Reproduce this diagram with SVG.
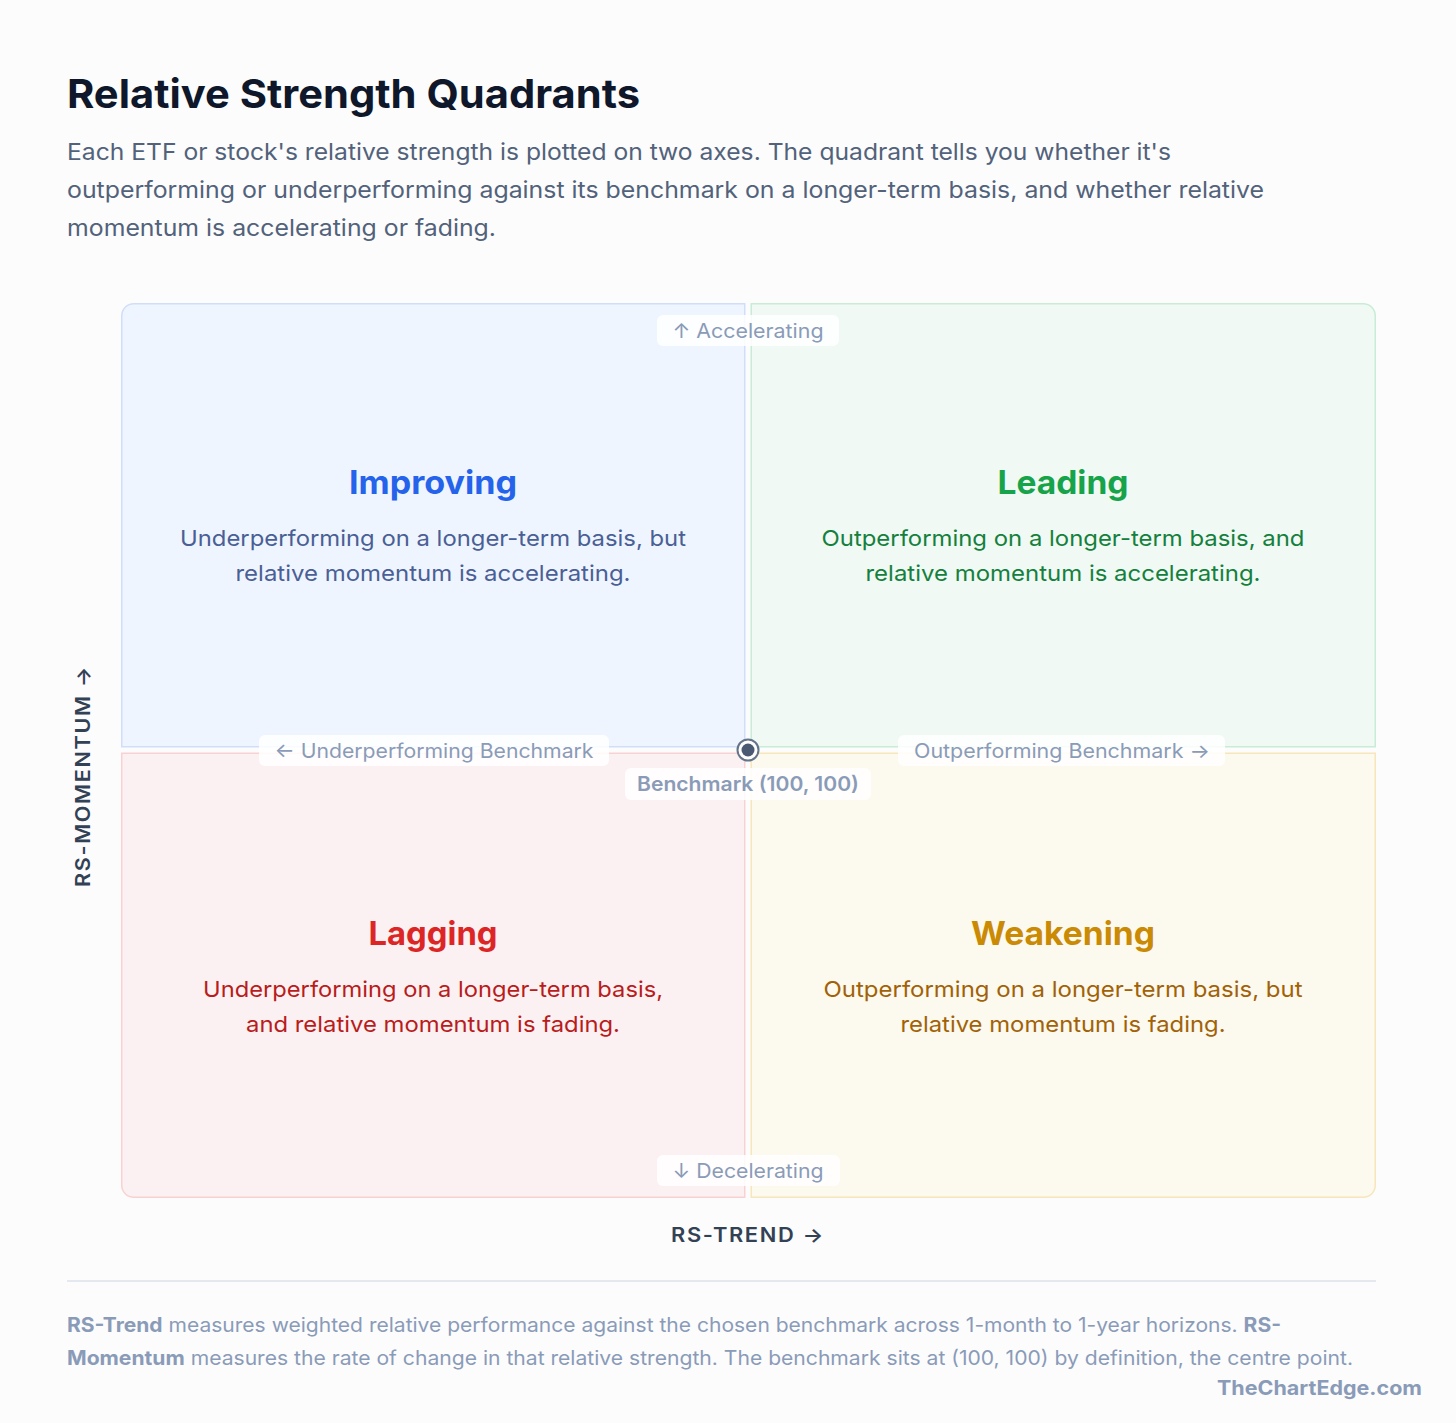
<svg xmlns="http://www.w3.org/2000/svg" width="1456" height="1423" viewBox="0 0 1456 1423">
<style>
text{font-family:Inter,"Open Sans","DejaVu Sans",sans-serif}
.title{font-size:40px;font-weight:700;fill:#0f172a}
.sub{font-size:23px;fill:#52627a}
.qt{font-size:33px;font-weight:700;text-anchor:middle}
.qd{font-size:22px;text-anchor:middle}
.pill{fill:#ffffff;fill-opacity:0.85}
.lbl{font-size:20px;fill:#8a9bb8;text-anchor:middle}
.axis{font-size:20px;font-weight:600;fill:#334155;letter-spacing:1.5px;text-anchor:middle}
.foot{font-size:20px;fill:#8a9bb8}
.b{font-weight:700}
</style>
<rect width="1456" height="1423" fill="#fcfcfd"/>
<g id="header">
<text class="title" x="67" y="108" textLength="573" lengthAdjust="spacingAndGlyphs">Relative Strength Quadrants</text>
<text class="sub" x="67" y="160" textLength="1104" lengthAdjust="spacingAndGlyphs">Each ETF or stock's relative strength is plotted on two axes. The quadrant tells you whether it's</text>
<text class="sub" x="67" y="198" textLength="1197" lengthAdjust="spacingAndGlyphs">outperforming or underperforming against its benchmark on a longer-term basis, and whether relative</text>
<text class="sub" x="67" y="236" textLength="429" lengthAdjust="spacingAndGlyphs">momentum is accelerating or fading.</text>
</g>
<g id="improving">
<path d="M121.75,746.75 V315.75 A12,12 0 0 1 133.75,303.75 H744.75 V746.75 Z" fill="#eff5fe" stroke="#d0defa" stroke-width="1.5"/>
<text class="qt" x="433" y="494" fill="#2563eb" textLength="168" lengthAdjust="spacingAndGlyphs">Improving</text>
<text class="qd" x="433" y="546" fill="#4a5f95" textLength="506" lengthAdjust="spacingAndGlyphs">Underperforming on a longer-term basis, but</text>
<text class="qd" x="433" y="581" fill="#4a5f95" textLength="395" lengthAdjust="spacingAndGlyphs">relative momentum is accelerating.</text>
</g>
<g id="leading">
<path d="M751.25,303.75 H1363.25 A12,12 0 0 1 1375.25,315.75 V746.75 H751.25 Z" fill="#f0f9f4" stroke="#c8ecd6" stroke-width="1.5"/>
<text class="qt" x="1063" y="494" fill="#16a34a" textLength="131" lengthAdjust="spacingAndGlyphs">Leading</text>
<text class="qd" x="1063" y="546" fill="#15803d" textLength="483" lengthAdjust="spacingAndGlyphs">Outperforming on a longer-term basis, and</text>
<text class="qd" x="1063" y="581" fill="#15803d" textLength="395" lengthAdjust="spacingAndGlyphs">relative momentum is accelerating.</text>
</g>
<g id="lagging">
<path d="M121.75,753.25 H744.75 V1197.25 H133.75 A12,12 0 0 1 121.75,1185.25 Z" fill="#fcf1f2" stroke="#f8d2d2" stroke-width="1.5"/>
<text class="qt" x="433" y="945" fill="#dc2626" textLength="129" lengthAdjust="spacingAndGlyphs">Lagging</text>
<text class="qd" x="433" y="997" fill="#b91c1c" textLength="460" lengthAdjust="spacingAndGlyphs">Underperforming on a longer-term basis,</text>
<text class="qd" x="433" y="1032" fill="#b91c1c" textLength="374" lengthAdjust="spacingAndGlyphs">and relative momentum is fading.</text>
</g>
<g id="weakening">
<path d="M751.25,753.25 H1375.25 V1185.25 A12,12 0 0 1 1363.25,1197.25 H751.25 Z" fill="#fcf9ef" stroke="#f6e6ba" stroke-width="1.5"/>
<text class="qt" x="1063" y="945" fill="#ca8a04" textLength="184" lengthAdjust="spacingAndGlyphs">Weakening</text>
<text class="qd" x="1063" y="997" fill="#a16207" textLength="479" lengthAdjust="spacingAndGlyphs">Outperforming on a longer-term basis, but</text>
<text class="qd" x="1063" y="1032" fill="#a16207" textLength="325" lengthAdjust="spacingAndGlyphs">relative momentum is fading.</text>
</g>
<g id="label-accelerating">
<rect class="pill" x="657" y="315" width="182" height="31" rx="6"/>
<text class="lbl" x="748" y="338" textLength="151" lengthAdjust="spacingAndGlyphs">↑ Accelerating</text>
</g>
<g id="label-decelerating">
<rect class="pill" x="657" y="1155" width="183" height="31" rx="6"/>
<text class="lbl" x="748" y="1178" textLength="151" lengthAdjust="spacingAndGlyphs">↓ Decelerating</text>
</g>
<g id="label-under">
<rect class="pill" x="259" y="735" width="350" height="31" rx="6"/>
<text class="lbl" x="434" y="758" textLength="319" lengthAdjust="spacingAndGlyphs">← Underperforming Benchmark</text>
</g>
<g id="label-out">
<rect class="pill" x="898" y="735" width="327" height="31" rx="6"/>
<text class="lbl" x="1062" y="758" textLength="296" lengthAdjust="spacingAndGlyphs">Outperforming Benchmark →</text>
</g>
<g id="benchmark">
<circle cx="748" cy="750" r="10.5" fill="#ffffff" stroke="#64748b" stroke-width="2"/>
<circle cx="748" cy="750" r="6.5" fill="#4b5a73"/>
<rect class="pill" x="625" y="768" width="246" height="32" rx="6"/>
<text class="lbl" x="748" y="791" font-weight="600" textLength="222" lengthAdjust="spacingAndGlyphs">Benchmark (100, 100)</text>
</g>
<g id="axes">
<text class="axis" x="748" y="1242" textLength="154" lengthAdjust="spacingAndGlyphs">RS-TREND →</text>
<text class="axis" transform="translate(90,776) rotate(-90)" x="0" y="0" textLength="222" lengthAdjust="spacingAndGlyphs">RS-MOMENTUM →</text>
</g>
<g id="footer">
<line x1="67" y1="1281" x2="1376" y2="1281" stroke="#dde3ec" stroke-width="1.5"/>
<text class="foot" x="67" y="1332" textLength="1214" lengthAdjust="spacingAndGlyphs"><tspan class="b">RS-Trend</tspan> measures weighted relative performance against the chosen benchmark across 1-month to 1-year horizons. <tspan class="b">RS-</tspan></text>
<text class="foot" x="67" y="1365" textLength="1286" lengthAdjust="spacingAndGlyphs"><tspan class="b">Momentum</tspan> measures the rate of change in that relative strength. The benchmark sits at (100, 100) by definition, the centre point.</text>
<text class="foot b" x="1422" y="1395" font-size="22" text-anchor="end" textLength="205" lengthAdjust="spacingAndGlyphs">TheChartEdge.com</text>
</g>
</svg>
